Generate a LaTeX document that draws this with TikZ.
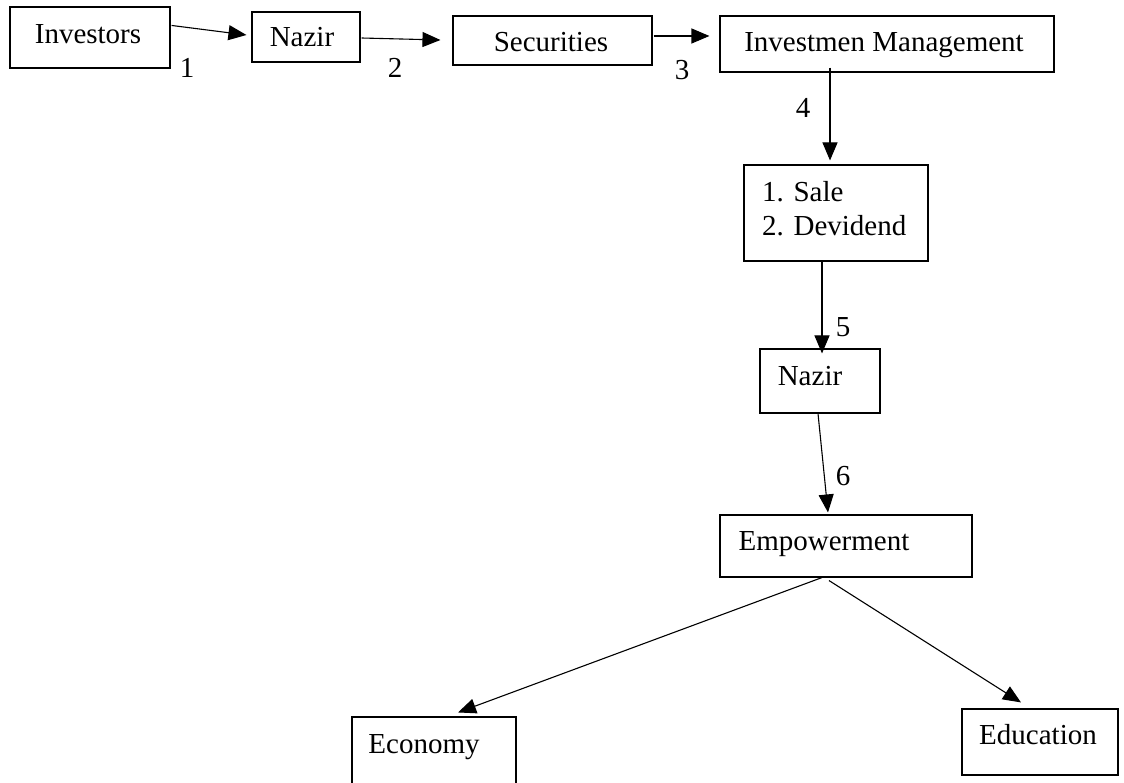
\documentclass[tikz,border=0pt]{standalone}
\usepackage{fontspec}
\setmainfont{Liberation Serif}
\usetikzlibrary{arrows.meta,calc}
\begin{document}
\begin{tikzpicture}[x=1pt,y=-1pt,
  txt/.style={font=\fontsize{29}{34}\selectfont, inner sep=0pt},
  box/.style={draw, line width=1.1pt, inner sep=0pt},
  conn/.style={line width=1.1pt, -{Triangle[length=18pt,width=15pt]}},
  num/.style={txt, anchor=base}
]
\clip (0,0) rectangle (1124,783);
\useasboundingbox (0,0) rectangle (1124,783);

% boxes
\node[box, minimum width=160pt, minimum height=61pt] (inv) at (90,37.5) {};
\node[box, minimum width=108pt, minimum height=50pt] (naz1) at (306,37) {};
\node[box, minimum width=199pt, minimum height=49pt] (sec) at (552.5,40.5) {};
\node[box, minimum width=334pt, minimum height=56pt] (im) at (887,44) {};
\node[box, minimum width=184pt, minimum height=96pt] (sale) at (836,213) {};
\node[box, minimum width=120pt, minimum height=64pt] (naz2) at (820,381) {};
\node[box, minimum width=252pt, minimum height=62pt] (emp) at (846,546) {};
\node[box, minimum width=164pt, minimum height=80pt] (eco) at (434,757) {};
\node[box, minimum width=156pt, minimum height=66pt] (edu) at (1040,742) {};

% box texts (baseline placement)
\node[txt, anchor=base] (invT) at ($(inv.center)+(-2,5.8)$) {Investors};
\node[txt, anchor=base] (naz1T) at ($(naz1.center)+(-4,10)$) {Nazir};
\node[txt, anchor=base] (secT) at ($(sec.center)+(-1.5,11.5)$) {Securities};
\node[txt, anchor=base] (imT) at ($(im.center)+(-3,8)$) {Investmen Management};
\node[txt, anchor=base west] (saleT1) at ($(sale.center)+(-74,-11)$) {1. Sale};
\node[txt, anchor=base west] (saleT2) at ($(sale.center)+(-74,23)$) {2. Devidend};
\node[txt, anchor=base] (naz2T) at ($(naz2.center)+(-10,4)$) {Nazir};
\node[txt, anchor=base] (empT) at ($(emp.center)+(-22,4)$) {Empowerment};
\node[txt, anchor=base] (ecoT) at ($(eco.center)+(-10,-4)$) {Economy};
\node[txt, anchor=base] (eduT) at ($(edu.center)+(-2,2)$) {Education};

% connectors
\draw[conn] ($(inv.north east)+(1,19)$) -- ($(naz1.west)+(-5,-2)$);
\draw[conn] ($(naz1.east)+(1,1)$) -- ($(sec.west)+(-12,-0.5)$);
\draw[conn] ($(sec.east)+(1,-4.5)$) -- ($(im.west)+(-10,-8)$);
\draw[conn] ($(im.south)+(-57,-5)$) -- ($(sale.north)+(-6,-4)$);
\draw[conn] ($(sale.south)+(-14,0)$) -- ($(naz2.north)+(2,5)$);
\draw[conn] ($(naz2.south)+(-2,0)$) -- ($(emp.north)+(-18,-2)$);
\draw[conn] ($(emp.south)+(-24,0)$) -- ($(eco.north)+(24,-4)$);
\draw[conn] ($(emp.south)+(-17,3)$) -- ($(edu.north)+(-19,-6)$);

% step numbers
\node[num] (n1) at (187,78) {1};
\node[num] (n2) at (395,78) {2};
\node[num] (n3) at (682,80) {3};
\node[num] (n4) at (803,118) {4};
\node[num] (n5) at (843,337) {5};
\node[num] (n6) at (843,485) {6};
\end{tikzpicture}
\end{document}
